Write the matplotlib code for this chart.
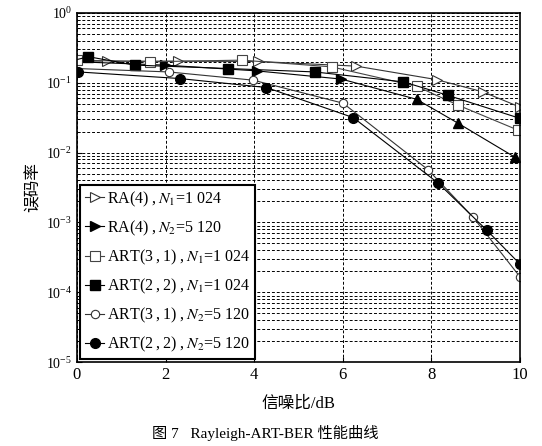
import matplotlib
matplotlib.use("Agg")
import matplotlib.pyplot as plt
from matplotlib.ticker import LogLocator, NullFormatter

plt.rcParams['font.family'] = ['Liberation Serif', 'Noto Sans CJK SC', 'DejaVu Sans']
plt.rcParams['mathtext.fontset'] = 'stix'

# Data (SNR in dB, BER)
ra4_n1_x = [0.0, 0.67, 2.29, 4.09, 6.31, 8.12, 9.17, 10.0]
ra4_n1_y = [0.205, 0.204, 0.204, 0.202, 0.173, 0.111, 0.074, 0.045]
ra4_n2_x = [0.0, 1.99, 4.06, 5.97, 7.67, 8.60, 9.89]
ra4_n2_y = [0.20, 0.179, 0.148, 0.113, 0.058, 0.0265, 0.0086]
art31_n1_x = [0.0, 1.65, 3.72, 5.75, 7.67, 8.60, 9.96]
art31_n1_y = [0.211, 0.200, 0.211, 0.169, 0.089, 0.048, 0.021]
art22_n1_x = [0.0, 0.26, 1.31, 3.42, 5.37, 7.37, 8.38, 10.0]
art22_n1_y = [0.215, 0.236, 0.179, 0.160, 0.143, 0.103, 0.066, 0.031]
art31_n2_x = [0.0, 2.07, 3.98, 6.01, 7.93, 8.95, 10.0]
art31_n2_y = [0.160, 0.143, 0.109, 0.051, 0.00568, 0.00118, 0.000168]
art22_n2_x = [0.03, 2.32, 4.28, 6.24, 8.16, 9.25, 10.0]
art22_n2_y = [0.143, 0.115, 0.0855, 0.0317, 0.00365, 0.00078, 0.000255]

T = "\u2009"
labels = [r"RA(4)" + T + "," + T + r"$N_1$=1 024",
          r"RA(4)" + T + "," + T + r"$N_2$=5 120",
          "ART(3" + T + "," + T + "1)" + T + "," + T + r"$N_1$=1 024",
          "ART(2" + T + "," + T + "2)" + T + "," + T + r"$N_1$=1 024",
          "ART(3" + T + "," + T + "1)" + T + "," + T + r"$N_2$=5 120",
          "ART(2" + T + "," + T + "2)" + T + "," + T + r"$N_2$=5 120"]
xticks = [0, 2, 4, 6, 8, 10]

fig = plt.figure(figsize=(5.42, 4.46), dpi=100)
ax = fig.add_axes([0.142, 0.188, 0.817, 0.783])

ms = 7
ax.plot(ra4_n1_x, ra4_n1_y, color='#333333', lw=0.8, marker='>', ms=ms,
        mfc='white', mec='#333333', mew=0.8, markevery=list(range(1, 8)), label=labels[0])
ax.plot(ra4_n2_x, ra4_n2_y, color='black', lw=0.8, marker='>', ms=ms,
        mfc='black', mec='black', markevery=[1, 2, 3], label=labels[1])
ax.plot(ra4_n2_x[4:], ra4_n2_y[4:], ls='none', marker='^', ms=ms,
        mfc='black', mec='black')
ax.plot(art31_n1_x, art31_n1_y, color='#444444', lw=0.8, marker='s', ms=ms,
        mfc='white', mec='#444444', mew=0.8, label=labels[2])
ax.plot(art22_n1_x, art22_n1_y, color='black', lw=0.8, marker='s', ms=ms,
        mfc='black', mec='black', markevery=list(range(1, 8)), label=labels[3])
ax.plot(art31_n2_x, art31_n2_y, color='#333333', lw=0.8, marker='o', ms=ms - 1,
        mfc='white', mec='#333333', mew=0.8, markevery=list(range(1, 7)), label=labels[4])
ax.plot(art22_n2_x, art22_n2_y, color='black', lw=0.8, marker='o', ms=ms,
        mfc='black', mec='black', label=labels[5])

ax.set_yscale('log')
ax.set_xlim(0, 10)
ax.set_ylim(1e-5, 1)
ax.set_xticks(xticks)
ax.set_xticklabels([str(t) for t in xticks])
ax.yaxis.set_major_locator(LogLocator(base=10, numticks=10))
ax.yaxis.set_minor_locator(LogLocator(base=10, subs=range(2, 10), numticks=20))
ax.yaxis.set_minor_formatter(NullFormatter())

ax.grid(True, which='major', axis='x', ls=(0, (3, 2)), color='black', lw=0.7)
ax.grid(True, which='both', axis='y', ls=(0, (3, 2)), color='black', lw=0.7)
ax.tick_params(axis='both', which='both', direction='in', labelsize=12)
ax.tick_params(axis='y', which='major', labelsize=10)
for s in ax.spines.values():
    s.set_linewidth(1.2)

cjk = ['Liberation Serif', 'Noto Sans CJK SC', 'DejaVu Sans']
ax.set_xlabel("信噪比/dB", fontsize=12, family=cjk, labelpad=9)
ax.set_ylabel("误码率", fontsize=12, family=cjk, labelpad=3)

leg = ax.legend(loc='lower left', fontsize=11.5, frameon=True, fancybox=False,
                edgecolor='black', framealpha=1, handlelength=1.2, handletextpad=0.15,
                borderpad=0.3, labelspacing=0.62, borderaxespad=0.2)
leg.get_frame().set_linewidth(1.5)

fig.text(0.49, 0.03, "图 7   Rayleigh-ART-BER 性能曲线", ha='center', va='center',
         fontsize=11, family=cjk)

fig.savefig("out.png", dpi=100)
